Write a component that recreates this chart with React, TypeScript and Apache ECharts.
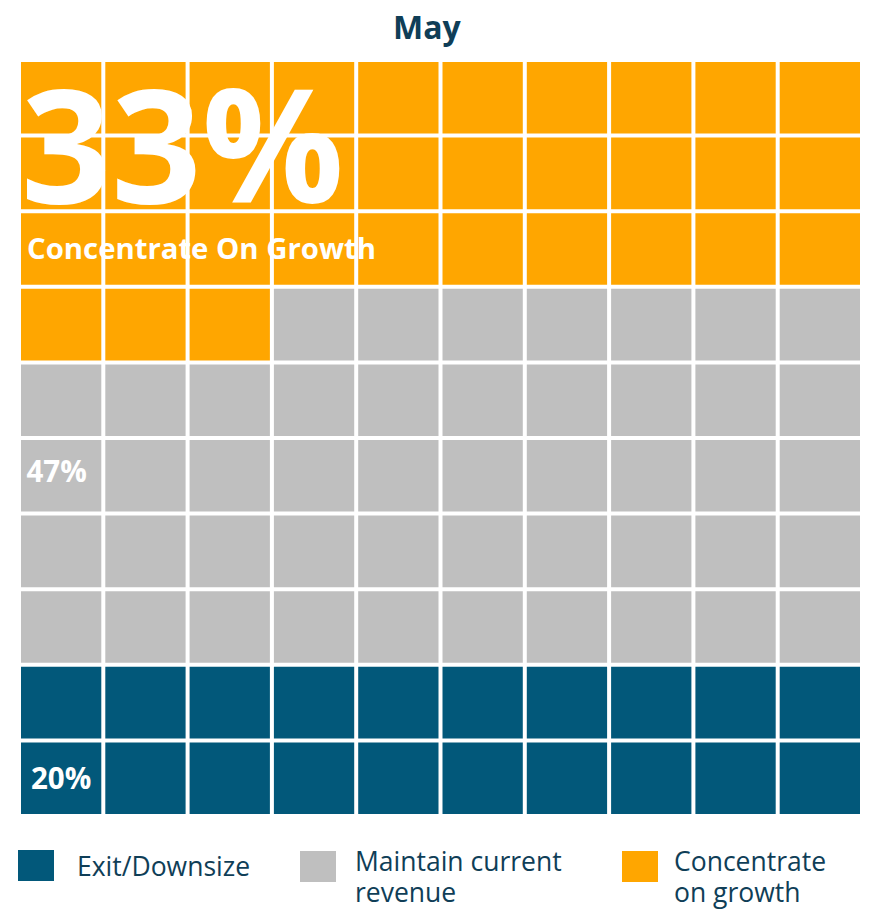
import React, { useEffect, useRef } from "react";
import * as echarts from "echarts";

const title = "May";
// fill order: top-left first
const categories = ["Concentrate on growth", "Maintain current revenue", "Exit/Downsize"];
const legendLines = [["Concentrate", "on growth"], ["Maintain current", "revenue"], ["Exit/Downsize"]];
const percentages = [33, 47, 20];
const colors = ["#FFA600", "#BFBFBF", "#02587A"];
const columns = ["1", "2", "3", "4", "5", "6", "7", "8", "9", "10"];
const rows = ["1", "2", "3", "4", "5", "6", "7", "8", "9", "10"];
const bigLabelText = "Concentrate On Growth";

const FONT = '"Open Sans", "Noto Sans", sans-serif';
const TEXT_DARK = "#0F3E57";
const GAP = 4;

export default function App() {
  const ref = useRef<HTMLDivElement>(null);

  useEffect(() => {
    if (!ref.current) return;
    const chart = echarts.init(ref.current, undefined, { renderer: "svg" });

    // build waffle cells
    const cellData: number[][][] = categories.map(() => []);
    let idx = 0;
    percentages.forEach((p, ci) => {
      for (let k = 0; k < p; k++) {
        const r = Math.floor(idx / columns.length);
        const c = idx % columns.length;
        cellData[ci].push([c, r]);
        idx++;
      }
    });

    const renderItem = (params: any, api: any) => {
      const p = api.coord([api.value(0), api.value(1)]);
      const s = api.size([1, 1]);
      return {
        type: "rect",
        shape: {
          x: p[0] - s[0] / 2 + GAP / 2,
          y: p[1] - s[1] / 2 + GAP / 2,
          width: s[0] - GAP,
          height: s[1] - GAP,
        },
        style: api.style(),
      };
    };

    const series = categories.map((name, i) => ({
      name,
      type: "custom",
      renderItem,
      data: cellData[i],
      encode: { x: 0, y: 1 },
      itemStyle: { color: colors[i] },
      silent: true,
    }));

    // legend: icons from the legend component, labels as text next to them
    const legendOrder = [2, 1, 0];
    const legendLeft = [18, 300, 622];
    const legendTextX = [77, 355, 674];
    const legends = legendOrder.map((ci, j) => ({
      data: [{ name: categories[ci], itemStyle: { color: colors[ci] } }],
      left: legendLeft[j],
      top: j === 0 ? 850 : 851,
      padding: 0,
      itemWidth: 36,
      itemHeight: 31,
      icon: "rect",
      selectedMode: false,
      formatter: () => "",
      textStyle: { fontSize: 1 },
    }));

    const legendTexts = legendOrder.map((ci, j) => {
      const lines = legendLines[ci];
      return {
        type: "text",
        x: legendTextX[j],
        y: lines.length > 1 ? 876 : 866,
        silent: true,
        style: {
          text: lines.join("\n"),
          fontFamily: FONT,
          fontSize: 26.5,
          lineHeight: 31,
          fill: TEXT_DARK,
          align: "left",
          verticalAlign: "middle",
        },
      };
    });

    const textEl = (text: string, x: number, y: number, size: number, lh?: number) => ({
      type: "text",
      x,
      y,
      silent: true,
      z: 100,
      style: {
        text,
        fontFamily: FONT,
        fontSize: size,
        lineHeight: lh ?? Math.round(size * 1.2),
        fontWeight: "bold",
        fill: "#ffffff",
        align: "left",
        verticalAlign: "middle",
      },
    });

    const option = {
      animation: false,
      title: {
        text: title,
        left: 388,
        top: 5,
        textStyle: { fontFamily: FONT, fontSize: 32, fontWeight: "bold", color: TEXT_DARK },
      },
      legend: legends,
      grid: { left: 19, top: 60, width: 843, height: 756, containLabel: false },
      xAxis: { type: "category", data: columns, show: false },
      yAxis: { type: "category", data: rows, inverse: true, show: false },
      series,
      graphic: [
        textEl(`${percentages[0]}%`, 21, 141, 158, 118),
        textEl(bigLabelText, 27, 248, 29.3, 30),
        textEl(`${percentages[1]}%`, 26.5, 470, 29.5, 30),
        textEl(`${percentages[2]}%`, 31, 777, 29.5, 30),
        ...legendTexts,
      ],
    };

    chart.setOption(option as any);
    return () => chart.dispose();
  }, []);

  return (
    <div
      ref={ref}
      style={{ position: "fixed", left: 0, top: 0, width: 872, height: 915, background: "#fff" }}
    />
  );
}
